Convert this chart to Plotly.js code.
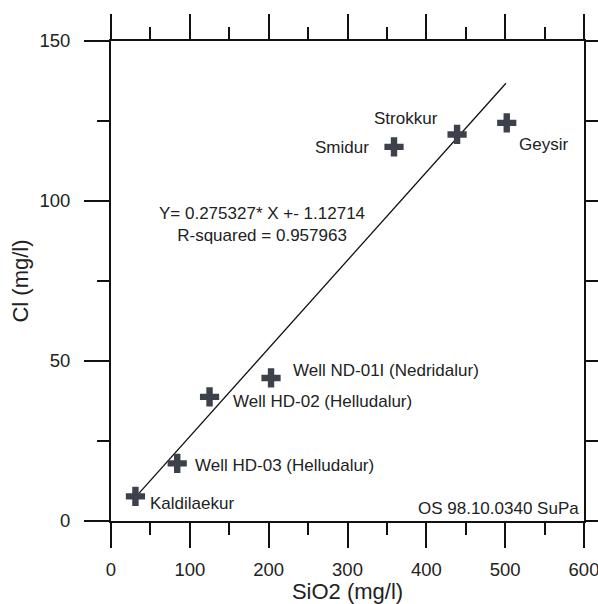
<!DOCTYPE html>
<html>
<head>
<meta charset="utf-8">
<script src="https://cdn.plot.ly/plotly-3.0.1.min.js"></script>
<style>html,body{margin:0;padding:0;background:#fff;}#chart{width:598px;height:604px;}</style>
</head>
<body>
<div id="chart"></div>
<script>
// Data
const siteNames = ["Kaldilaekur", "Well HD-03 (Helludalur)", "Well HD-02 (Helludalur)", "Well ND-01I (Nedridalur)", "Smidur", "Strokkur", "Geysir"];
const sio2 = [31, 84, 125, 203, 359, 439, 502];
const cl = [7.7, 18, 38.8, 44.7, 116.9, 120.8, 124.4];
const fitX = [30, 501];
const fitY = [7.13, 136.81];
const equationText = "Y= 0.275327* X +- 1.12714<br>R-squared = 0.957963";
const stampText = "OS 98.10.0340 SuPa";
const xTickVals = [0, 100, 200, 300, 400, 500, 600];
const yTickVals = [0, 50, 100, 150];

// label placement (pixel offsets from each point)
const labelStyle = [
  {xanchor: "left", xshift: 13, yshift: -7},
  {xanchor: "left", xshift: 16, yshift: -2},
  {xanchor: "left", xshift: 21, yshift: -5},
  {xanchor: "left", xshift: 20, yshift: 7},
  {xanchor: "right", xshift: -23, yshift: -1},
  {xanchor: "right", xshift: -17, yshift: 16},
  {xanchor: "left", xshift: 10, yshift: -22}
];

const font = "Liberation Sans, Arial, sans-serif";
const ink = "#222";
const labelSize = 17;

const traces = [
  {x: fitX, y: fitY, mode: "lines", type: "scatter", line: {color: "#111", width: 1.3}, hoverinfo: "skip"},
  {x: sio2, y: cl, mode: "markers", type: "scatter", text: siteNames,
   marker: {symbol: "cross", size: 16, color: "#3c414b", line: {width: 0}}},
  {x: [], y: [], xaxis: "x2", yaxis: "y", mode: "markers", type: "scatter", hoverinfo: "skip"}
];

const annotations = siteNames.map((n, i) => Object.assign({
  x: sio2[i], y: cl[i], xref: "x", yref: "y", text: n, showarrow: false,
  yanchor: "middle", font: {family: font, size: labelSize, color: ink}
}, labelStyle[i]));
annotations.push({x: 192, y: 92.6, xref: "x", yref: "y", text: equationText, showarrow: false,
  align: "center", xanchor: "center", yanchor: "middle", font: {family: font, size: labelSize, color: ink}});
annotations.push({x: 1, y: 0, xref: "paper", yref: "paper", text: stampText, showarrow: false,
  xanchor: "right", yanchor: "bottom", xshift: -3, yshift: 1, font: {family: font, size: labelSize, color: ink}});

const tickStyle = {ticks: "outside", ticklen: 25, tickwidth: 2, tickcolor: "#111"};
const minorStyle = {ticks: "outside", ticklen: 12, tickwidth: 2, tickcolor: "#111"};
const tickFont = {family: font, size: 18.5, color: ink};
const titleFont = {family: font, size: 22, color: ink};

const layout = {
  width: 598, height: 604,
  margin: {l: 111, r: 14, t: 41, b: 83},
  paper_bgcolor: "#fff", plot_bgcolor: "#fff",
  showlegend: false,
  font: {family: font, color: ink},
  xaxis: Object.assign({}, tickStyle, {
    showgrid: false, zeroline: false, showline: true, linecolor: "#111", linewidth: 2,
    range: [0, 600], tickvals: xTickVals, tickfont: tickFont, ticklabelstandoff: 6,
    ticklabeloverflow: "allow",
    minor: Object.assign({}, minorStyle, {dtick: 50, tick0: 0}),
    title: {text: "SiO2 (mg/l)", font: titleFont, standoff: 10}
  }),
  xaxis2: Object.assign({}, tickStyle, {
    overlaying: "x", side: "top", anchor: "y", matches: "x",
    showgrid: false, zeroline: false, showline: true, linecolor: "#111", linewidth: 2,
    range: [0, 600], tickvals: xTickVals, showticklabels: false,
    minor: Object.assign({}, minorStyle, {dtick: 50, tick0: 0})
  }),
  yaxis: Object.assign({}, tickStyle, {
    showgrid: false, zeroline: false, showline: true, linecolor: "#111", linewidth: 2,
    mirror: "ticks",
    range: [0, 150], tickvals: yTickVals, tickfont: tickFont, ticklabelstandoff: 10,
    ticklabeloverflow: "allow",
    minor: Object.assign({}, minorStyle, {dtick: 25, tick0: 0}),
    title: {text: "Cl (mg/l)", font: titleFont, standoff: 5}
  }),
  annotations: annotations
};

Plotly.newPlot("chart", traces, layout, {displayModeBar: false, staticPlot: true});
</script>
</body>
</html>
